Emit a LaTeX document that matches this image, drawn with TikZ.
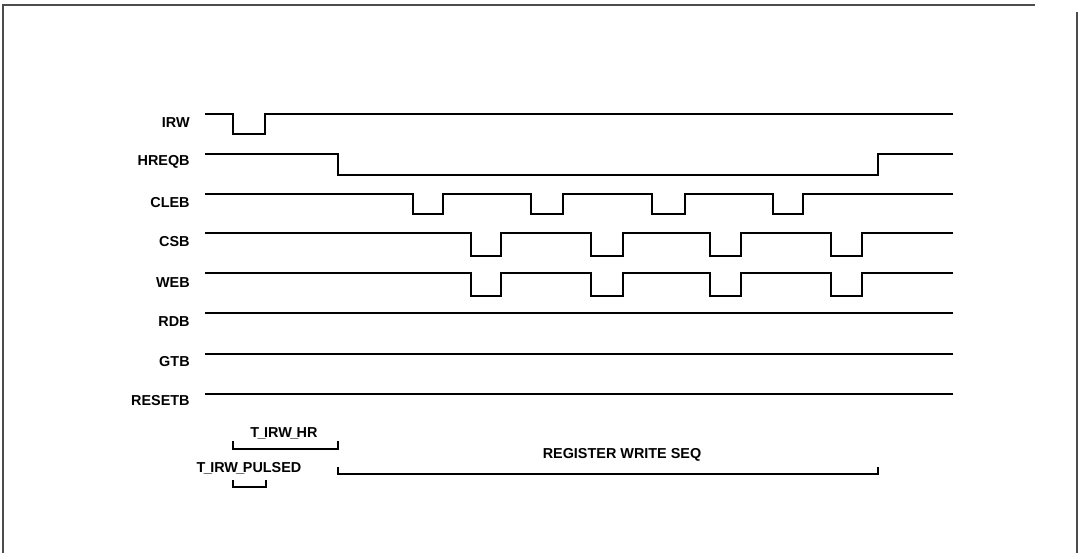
\documentclass[tikz,border=0pt]{standalone}
\usepackage{fontspec}
\setmainfont{Liberation Sans}
\usepackage{tikz}
\usetikzlibrary{positioning}
\newcommand{\us}{\kern-0.9pt\_\kern-0.9pt}

\begin{document}
\begin{tikzpicture}[
    x=0.02cm, y=-0.02cm,
    wave/.style={line width=1pt, line join=miter},
    sig/.style={font=\bfseries\fontsize{8.2}{10}\selectfont, anchor=east, inner sep=0pt},
    brk/.style={line width=0.9pt},
    lbl/.style={font=\bfseries\fontsize{8.2}{10}\selectfont, inner sep=0pt},
  ]
  \useasboundingbox (0,0) rectangle (1081,553);

  % Frame
  \draw[line width=1.1pt, gray!60!black] (3,553) -- (3,5) -- (1035,5);
  \draw[line width=1.1pt, gray!60!black] (1077,12) -- (1077,553);

  % Signal names
  \node[sig] (irw)    at (190,123) {IRW};
  \node[sig] (hreqb)  at (190,162) {HREQB};
  \node[sig] (cleb)   at (190,203) {CLEB};
  \node[sig] (csb)    at (190,242) {CSB};
  \node[sig] (web)    at (190,283) {WEB};
  \node[sig] (rdb)    at (190,322) {RDB};
  \node[sig] (gtb)    at (190,362) {GTB};
  \node[sig] (resetb) at (190,401) {RESETB};

  % Waveforms
  \draw[wave] (205,114) -- (233,114) -- (233,134) -- (265,134) -- (265,114) -- (953,114);
  \draw[wave] (205,154) -- (338,154) -- (338,175) -- (878,175) -- (878,154) -- (953,154);
  \draw[wave] (205,194) -- (413,194) -- (413,214) -- (443,214) -- (443,194)
              -- (531,194) -- (531,214) -- (563,214) -- (563,194)
              -- (652,194) -- (652,214) -- (685,214) -- (685,194)
              -- (773,194) -- (773,214) -- (803,214) -- (803,194) -- (953,194);
  \draw[wave] (205,233) -- (471,233) -- (471,256) -- (501,256) -- (501,233)
              -- (591,233) -- (591,256) -- (623,256) -- (623,233)
              -- (710,233) -- (710,256) -- (741,256) -- (741,233)
              -- (831,233) -- (831,256) -- (862,256) -- (862,233) -- (953,233);
  \draw[wave] (205,273) -- (471,273) -- (471,296) -- (501,296) -- (501,273)
              -- (591,273) -- (591,296) -- (623,296) -- (623,273)
              -- (710,273) -- (710,296) -- (741,296) -- (741,273)
              -- (831,273) -- (831,296) -- (862,296) -- (862,273) -- (953,273);
  \draw[wave] (205,313) -- (953,313);
  \draw[wave] (205,354) -- (953,354);
  \draw[wave] (205,394) -- (953,394);

  % Timing brackets
  \draw[brk] (233,441) -- (233,449) -- (338,449) -- (338,441);
  \node[lbl] (thr) at (284,433) {T\us IRW\us HR};
  \node[lbl] (tpulse) at (249,468) {T\us IRW\us PULSED};
  \draw[brk] (233,480) -- (233,487) -- (266,487) -- (266,480);
  \draw[brk] (338,467) -- (338,474) -- (878,474) -- (878,467);
  \node[lbl] (seq) at (622,455) {REGISTER WRITE SEQ};
\end{tikzpicture}
\end{document}
